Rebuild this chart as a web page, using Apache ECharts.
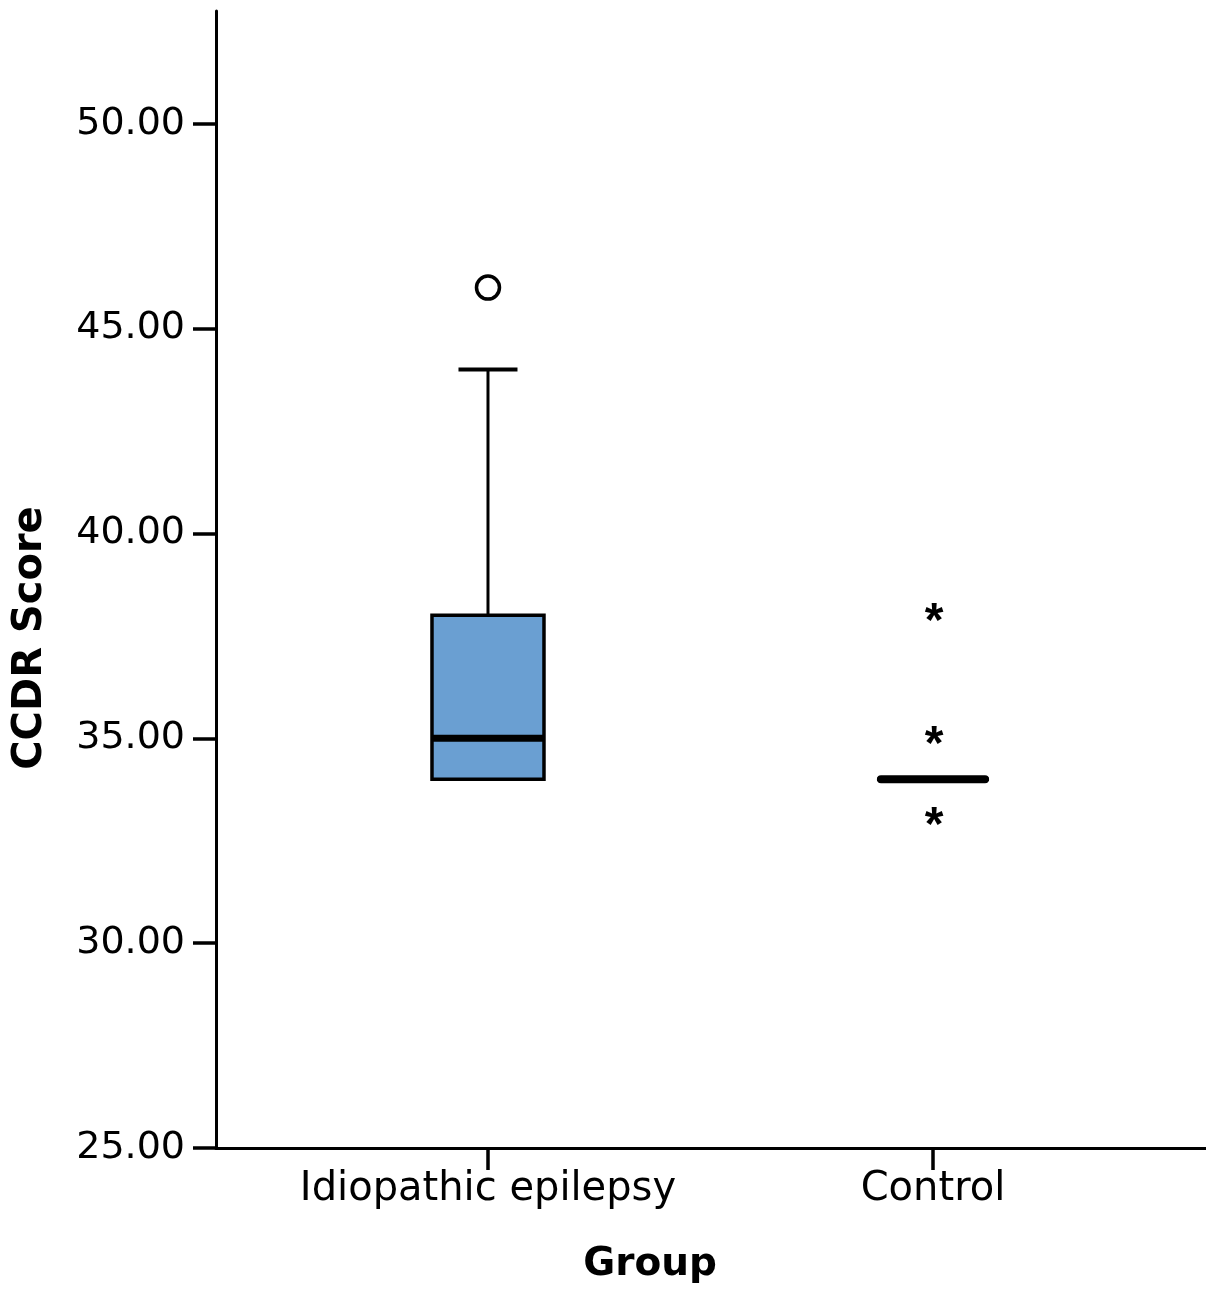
<!DOCTYPE html>
<html>
<head>
<meta charset="utf-8">
<script src="https://cdn.jsdelivr.net/npm/echarts@6/dist/echarts.min.js"></script>
<style>
  html, body { margin: 0; padding: 0; background: #fff; }
  #chart { width: 1206px; height: 1293px; }
</style>
</head>
<body>
<div id="chart"></div>
<script>
// CCDR 分數箱形圖：兩組（特發性癲癇 / 對照），數值由圖上讀取
const groups = ['Idiopathic epilepsy', 'Control']
const whiskerLow = [34, 34]
const q1 = [34, 34]
const median = [35, 34]
const q3 = [38, 34]
const whiskerHigh = [44, 34]
// 離群值（圓圈）與極端值（星號）：[組別 index, 分數]
const outliers = [[0, 46]]
const extremes = [[1, 38], [1, 35], [1, 33]]
const yTicks = [25, 30, 35, 40, 45, 50]

const INK = '#000'
const FILL = '#6a9fd2'
const FONT = 'DejaVu Sans'

const chart = echarts.init(document.getElementById('chart'))

const boxData = groups.map((g, i) => [i, whiskerLow[i], q1[i], median[i], q3[i], whiskerHigh[i]])

// 箱子：whisker + cap + 箱體 + 中位線，全部用 api.coord 換算
function renderBox(params, api) {
  const x = api.value(0)
  const pLow = api.coord([x, api.value(1)])
  const pQ1 = api.coord([x, api.value(2)])
  const pMed = api.coord([x, api.value(3)])
  const pQ3 = api.coord([x, api.value(4)])
  const pHigh = api.coord([x, api.value(5)])
  const cx = pQ1[0]
  const hw = 56   // 箱半寬 px
  const cw = 29.5 // cap 半寬 px
  const line = (x1, y1, x2, y2, w, cap) => ({
    type: 'line', shape: { x1, y1, x2, y2 },
    style: { stroke: INK, lineWidth: w, lineCap: cap || 'butt' },
  })
  const kids = []
  if (pHigh[1] < pQ3[1]) {
    kids.push(line(cx, pHigh[1], cx, pQ3[1], 3))
    kids.push(line(cx - cw, pHigh[1], cx + cw, pHigh[1], 4))
  }
  if (pLow[1] > pQ1[1]) {
    kids.push(line(cx, pQ1[1], cx, pLow[1], 3))
    kids.push(line(cx - cw, pLow[1], cx + cw, pLow[1], 4))
  }
  kids.push({
    type: 'rect',
    shape: { x: cx - hw, y: pQ3[1], width: hw * 2, height: pQ1[1] - pQ3[1] },
    style: { fill: FILL, stroke: INK, lineWidth: 3.5 },
  })
  // 箱體高度為 0（四分位數相同）時只剩一條粗線，SPSS 畫成圓頭
  const flat = pQ1[1] - pQ3[1] < 1
  kids.push(flat
    ? line(cx - hw + 4, pMed[1], cx + hw - 4, pMed[1], 8, 'round')
    : line(cx - hw, pMed[1], cx + hw, pMed[1], 7))
  return { type: 'group', children: kids }
}

chart.setOption({
  backgroundColor: '#fff',
  animation: false,
  grid: { left: 216, right: 0, top: 11, bottom: 145 },
  xAxis: {
    type: 'value',
    min: -0.6112, max: 1.6135,
    axisLine: { onZero: false, lineStyle: { color: INK, width: 3 } },
    axisTick: { customValues: [0, 1], length: 22, lineStyle: { color: INK, width: 3.5 } },
    axisLabel: {
      customValues: [0, 1],
      formatter: v => groups[Math.round(v)],
      color: '#000', fontFamily: FONT, fontSize: 40, margin: 22,
    },
    splitLine: { show: false },
  },
  yAxis: {
    type: 'value',
    min: 25, max: 52.75, interval: 5,
    axisLine: { onZero: false, lineStyle: { color: INK, width: 3 } },
    axisTick: { customValues: yTicks, length: 23, lineStyle: { color: INK, width: 3.5 } },
    axisLabel: {
      customValues: yTicks,
      formatter: v => v.toFixed(2),
      color: '#000', fontFamily: FONT, fontSize: 38, margin: 31,
    },
    splitLine: { show: false },
  },
  graphic: [
    {
      type: 'text', x: 650, y: 1265,
      style: { text: 'Group', font: `bold 39px "${FONT}"`, fill: '#000', align: 'center', verticalAlign: 'middle' },
    },
    {
      type: 'text', x: 31, y: 638, rotation: Math.PI / 2,
      style: { text: 'CCDR Score', font: `bold 40px "${FONT}"`, fill: '#000', align: 'center', verticalAlign: 'middle' },
    },
  ],
  series: [
    {
      type: 'custom',
      renderItem: renderBox,
      data: boxData,
      encode: { x: 0, y: [1, 2, 3, 4, 5] },
      z: 2,
    },
    {
      type: 'scatter',
      data: outliers,
      symbol: 'circle', symbolSize: 23,
      itemStyle: { color: '#fff', borderColor: INK, borderWidth: 3.5, opacity: 1 },
      z: 3,
    },
    {
      type: 'scatter',
      data: extremes,
      symbol: 'circle', symbolSize: 1,
      itemStyle: { color: 'rgba(0,0,0,0)', opacity: 1 },
      label: {
        show: true, position: 'inside', formatter: '*', offset: [1, 7],
        color: '#000', fontFamily: 'Liberation Sans', fontWeight: 'bold', fontSize: 48,
      },
      z: 3,
    },
  ],
})
</script>
</body>
</html>
